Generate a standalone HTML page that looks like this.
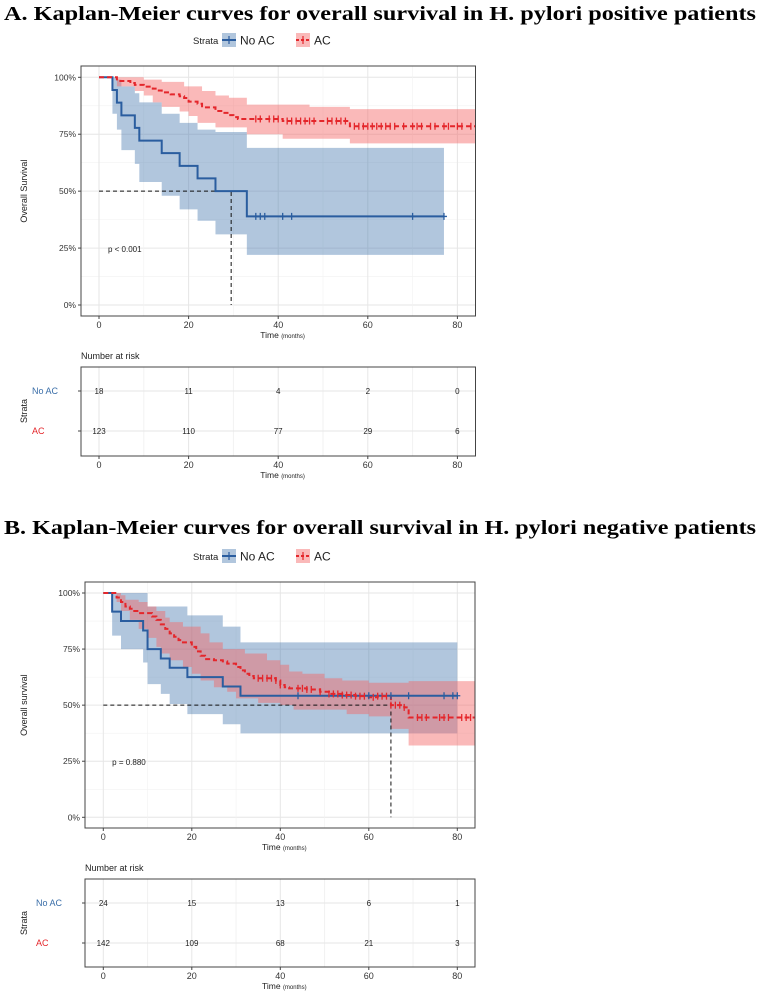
<!DOCTYPE html>
<html><head><meta charset="utf-8">
<style>
html,body{margin:0;padding:0;background:#fff;}
svg{display:block;}
text{font-family:"Liberation Sans",sans-serif;}
.title{font-family:"Liberation Serif",serif;font-weight:bold;font-size:20.5px;fill:#000;}
</style></head>
<body>
<svg id="svg" width="759" height="992" viewBox="0 0 759 992" xmlns="http://www.w3.org/2000/svg">
<text class="title" x="4" y="20" textLength="752" lengthAdjust="spacingAndGlyphs">A.  Kaplan-Meier curves for overall survival in H. pylori positive patients</text>
<text class="title" x="4" y="534" textLength="752" lengthAdjust="spacingAndGlyphs">B.  Kaplan-Meier curves for overall survival in H. pylori negative patients</text>
</svg>
<script>
// ---- Panel A data ----
const aNoTimes = [0,3,4,5,8,9,14,18,22,26,33,77];
const aNoSurv  = [100,94.4,88.9,83.3,77.8,72.2,66.7,61.1,55.6,50,38.9,38.9];
const aNoUpTimes = [0,4,5,8,9,14,18,22,26,33,77];
const aNoUp    = [100,99,96,93,89,84,80,77,76,69,69];
const aNoLoTimes = [0,3,4,5,8,9,14,18,22,26,33,77];
const aNoLo    = [100,84,77,68,62,54,48,42,37,31,22,22];
const aNoCens  = [35,36,37,41,43,70,77];
const aAcTimes = [0,4,7,8,10,12,13,14,16,18,19,20,22,23,26,28,29,30,31,41,56,84];
const aAcSurv  = [100,98.4,97.5,96.7,95.9,95,94.2,93.4,92.5,91.7,90.9,89.3,88.4,86.8,85.2,84.4,83.4,82.5,81.7,80.8,78.5,78.5];
const aAcUpTimes = [0,10,14,19,23,26,29,33,47,56,84];
const aAcUp    = [100,99,98,96,94,92,91,88,87,86,86];
const aAcLoTimes = [0,4,8,10,12,14,18,20,22,26,33,41,56,84];
const aAcLo    = [100,96,94,92,89,87,85,83,80,78,75,73,71,71];
const aAcCens  = [35,36,38,39,40,42,43,44,45,46,47,48,51,52,53,54,55,57,58,59,60,61,62,63,64,65,66,68,70,71,72,74,75,77,78,80,81,83];
const aMedian = 29.5;
const aRiskTicks = [0,20,40,60,80];
const aRiskNo = [18,11,4,2,0];
const aRiskAc = [123,110,77,29,6];
// ---- Panel B data ----
const bNoTimes = [0,2,4,9,10,13,15,19,27,31,80];
const bNoSurv  = [100,91.7,87.5,83.3,75,70.8,66.7,62.5,58.3,54.2,54.2];
const bNoUpTimes = [0,10,19,27,31,80];
const bNoUp    = [100,94,90,85,78,78];
const bNoLoTimes = [0,2,4,9,10,13,15,19,27,31,80];
const bNoLo    = [100,81,75,69,59.4,55,50.5,46,41.5,37.4,37.4];
const bNoCens  = [44,60,65,69,77,79,80];
const bAcTimes = [0,3,4,5,6,7,8,10,11,12,13,14,15,16,17,18,20,21,22,23,25,27,28,30,31,32,33,34,39,40,41,42,46,49,51,54,57,60,62,65,68,69,84];
const bAcSurv  = [100,98,96,94,93,92,91,91,89.5,88,86,84,82,80.5,79,78,76,74,72,70.5,70,69.5,68.5,67,65.5,64,63,62,61,59,58,57.5,57,56,55,54.5,54,53.5,54,50,49,44.5,44.5];
const bAcUpTimes = [0,4,5,8,10,12,14,15,18,22,24,27,32,37,40,42,45,50,54,60,69,84];
const bAcUp    = [100,99,97,96,94,92,89,87,85,82,78,75,73,70,68,65,64,62,61,60,60.7,60.7];
const bAcLoTimes = [0,3,4,6,8,10,12,13,15,18,20,22,25,28,30,35,40,43,55,60,65,69,84];
const bAcLo    = [100,96,92,88,84,80,76,73,70,67,64,61,58,56,53,51,50,48,46,45,39.4,32,32];
const bAcCens  = [35,36,37,38,39,40,44,45,46,47,49,51,52,53,54,55,56,57,58,59,61,62,63,64,65,66,67,68,71,72,73,76,77,78,81,82,83];
const bMedian = 65;
const bRiskTicks = [0,20,40,60,80];
const bRiskNo = [24,15,13,6,1];
const bRiskAc = [142,109,68,21,3];

const svg = document.getElementById('svg');
const NS = 'http://www.w3.org/2000/svg';
function mk(tag, attrs, parent){
  const e = document.createElementNS(NS, tag);
  for (const k in attrs) e.setAttribute(k, attrs[k]);
  (parent||svg).appendChild(e);
  return e;
}
function txt(s, attrs, parent){ const e = mk('text', attrs, parent); e.textContent = s; return e; }

function stepPath(ts, vs, X, Y){
  let d = 'M'+X(ts[0])+','+Y(vs[0]);
  for (let i=1;i<ts.length;i++){ d += ' H'+X(ts[i])+' V'+Y(vs[i]); }
  return d;
}
function bandPath(ut, uv, lt, lv, X, Y){
  let d = 'M'+X(ut[0])+','+Y(uv[0]);
  for (let i=1;i<ut.length;i++){ d += ' H'+X(ut[i])+' V'+Y(uv[i]); }
  d += ' L'+X(lt[lt.length-1])+','+Y(lv[lv.length-1]);
  for (let i=lt.length-1;i>0;i--){ d += ' V'+Y(lv[i-1])+' H'+X(lt[i-1]); }
  return d+' Z';
}
function survAt(ts, vs, t){ let v=vs[0]; for(let i=0;i<ts.length;i++){ if(ts[i]<=t) v=vs[i]; } return v; }

const BLUE='#2a5d9f', RED='#e4262b', BLUEF='rgba(70,120,175,0.42)', REDF='rgba(245,100,100,0.45)';

function panel(cfg){
  const {box, x0, k, y100, y0, oy} = cfg;
  const X = t => x0 + t*k;
  const Y = v => y0 + (y100-y0)*v/100;
  const g = mk('g', {});
  
  
  // legend
  const lg = mk('g', {}, g);
  
  
  txt('Strata', {x:193, y:cfg.ly+4, 'font-size':9.5, fill:'#222'}, lg);
  mk('rect', {x:222, y:cfg.ly-7, width:14, height:14, fill:BLUEF}, lg);
  mk('line', {x1:222, y1:cfg.ly, x2:236, y2:cfg.ly, stroke:BLUE, 'stroke-width':2}, lg);
  mk('line', {x1:229, y1:cfg.ly-4, x2:229, y2:cfg.ly+4, stroke:BLUE, 'stroke-width':1.2}, lg);
  txt('No AC', {x:240, y:cfg.ly+4.5, 'font-size':12, fill:'#222'}, lg);
  mk('rect', {x:296, y:cfg.ly-7, width:14, height:14, fill:REDF}, lg);
  mk('line', {x1:296, y1:cfg.ly, x2:310, y2:cfg.ly, stroke:RED, 'stroke-width':2, 'stroke-dasharray':'3,2'}, lg);
  mk('line', {x1:303, y1:cfg.ly-4, x2:303, y2:cfg.ly+4, stroke:RED, 'stroke-width':1.2}, lg);
  txt('AC', {x:314, y:cfg.ly+4.5, 'font-size':12, fill:'#222'}, lg);
  // grid
  for (let v=0; v<=100; v+=12.5){
    mk('line', {x1:box[0], x2:box[2], y1:Y(v), y2:Y(v), stroke: v%25===0?'#e6e6e6':'#f2f2f2', 'stroke-width':v%25===0?1:0.6}, g);
  }
  for (let t=0; t<=80; t+=10){
    mk('line', {y1:box[1], y2:box[3], x1:X(t), x2:X(t), stroke: t%20===0?'#e6e6e6':'#f2f2f2', 'stroke-width':t%20===0?1:0.6}, g);
  }
  // bands
  const nb = mk('path', {d:bandPath(cfg.noUpT,cfg.noUp,cfg.noLoT,cfg.noLo,X,Y), fill:BLUEF}, g);
  
  
  const ab = mk('path', {d:bandPath(cfg.acUpT,cfg.acUp,cfg.acLoT,cfg.acLo,X,Y), fill:REDF}, g);
  
  
  // median lines
  mk('path', {d:'M'+X(0)+','+Y(50)+' H'+X(cfg.median)+' V'+Y(0), fill:'none', stroke:'#111', 'stroke-width':1, 'stroke-dasharray':'4,3'}, g);
  // curves
  const nl = mk('path', {d:stepPath(cfg.noT,cfg.noS,X,Y), fill:'none', stroke:BLUE, 'stroke-width':2}, g);
  
  
  const al = mk('path', {d:stepPath(cfg.acT,cfg.acS,X,Y), fill:'none', stroke:RED, 'stroke-width':2, 'stroke-dasharray':'5,3'}, g);
  
  
  cfg.noC.forEach(t=>{ const y=Y(survAt(cfg.noT,cfg.noS,t)); mk('path',{d:'M'+(X(t)-3)+','+y+'h6M'+X(t)+','+(y-3.5)+'v7',stroke:BLUE,'stroke-width':1.3},g); });
  cfg.acC.forEach(t=>{ const y=Y(survAt(cfg.acT,cfg.acS,t)); mk('path',{d:'M'+X(t)+','+(y-3.5)+'v7',stroke:RED,'stroke-width':1.3},g); });
  // box
  mk('rect', {x:box[0], y:box[1], width:box[2]-box[0], height:box[3]-box[1], fill:'none', stroke:'#444', 'stroke-width':1}, g);
  // y axis
  [0,25,50,75,100].forEach(v=>{
    mk('line',{x1:box[0]-3,x2:box[0],y1:Y(v),y2:Y(v),stroke:'#444'},g);
    txt(v+'%',{x:box[0]-5,y:Y(v)+3,'font-size':8.5,fill:'#333','text-anchor':'end'},g);
  });
  txt(cfg.ytitle,{transform:'translate(27,'+((y0+y100)/2)+') rotate(-90)','font-size':9,fill:'#222','text-anchor':'middle'},g);
  [0,20,40,60,80].forEach(t=>{
    mk('line',{x1:X(t),x2:X(t),y1:box[3],y2:box[3]+3,stroke:'#444'},g);
    txt(String(t),{x:X(t),y:box[3]+12,'font-size':9,fill:'#333','text-anchor':'middle'},g);
  });
  const tl = txt('Time ',{x:(box[0]+box[2])/2-18,y:box[3]+22,'font-size':8.5,fill:'#222'},g);
  const ts = mk('tspan',{'font-size':6},tl); ts.textContent='(months)';
  txt(cfg.ptext,{x:X(cfg.px),y:Y(25)+4,'font-size':8,fill:'#222'},g);

  // risk table
  const rb = cfg.rbox;
  const rg = mk('g', {});
  
  
  txt('Number at risk',{x:rb[0],y:rb[1]-8,'font-size':9,fill:'#222'},rg);
  for (let t=0;t<=80;t+=10) mk('line',{x1:X(t),x2:X(t),y1:rb[1],y2:rb[3],stroke:t%20===0?'#e6e6e6':'#f2f2f2'},rg);
  [cfg.r1,cfg.r2].forEach(y=>mk('line',{x1:rb[0],x2:rb[2],y1:y,y2:y,stroke:'#e6e6e6'},rg));
  mk('rect',{x:rb[0],y:rb[1],width:rb[2]-rb[0],height:rb[3]-rb[1],fill:'none',stroke:'#444'},rg);
  cfg.rTicks.forEach((t,i)=>{
    txt(String(cfg.rNo[i]),{x:X(t),y:cfg.r1+3,'font-size':8,fill:'#222','text-anchor':'middle'},rg);
    txt(String(cfg.rAc[i]),{x:X(t),y:cfg.r2+3,'font-size':8,fill:'#222','text-anchor':'middle'},rg);
    mk('line',{x1:X(t),x2:X(t),y1:rb[3],y2:rb[3]+3,stroke:'#444'},rg);
    txt(String(t),{x:X(t),y:rb[3]+12,'font-size':9,fill:'#333','text-anchor':'middle'},rg);
  });
  [cfg.r1,cfg.r2].forEach(y=>mk('line',{x1:rb[0]-3,x2:rb[0],y1:y,y2:y,stroke:'#444'},rg));
  txt('No AC',{x:rb[0]-49,y:cfg.r1+3,'font-size':9,fill:'#3a6ea8'},rg);
  txt('AC',{x:rb[0]-49,y:cfg.r2+3,'font-size':9,fill:'#e4262b'},rg);
  txt('Strata',{transform:'translate(27,'+((cfg.r1+cfg.r2)/2)+') rotate(-90)','font-size':9,fill:'#222','text-anchor':'middle'},rg);
  const tl2 = txt('Time ',{x:(rb[0]+rb[2])/2-18,y:rb[3]+22,'font-size':8.5,fill:'#222'},rg);
  const ts2 = mk('tspan',{'font-size':6},tl2); ts2.textContent='(months)';
}

panel({id:'panel-a', box:[81,66,475.5,316], x0:99, k:4.48, y100:77.3, y0:305, ly:40,
  noT:aNoTimes, noS:aNoSurv, noUpT:aNoUpTimes, noUp:aNoUp, noLoT:aNoLoTimes, noLo:aNoLo, noC:aNoCens,
  acT:aAcTimes, acS:aAcSurv, acUpT:aAcUpTimes, acUp:aAcUp, acLoT:aAcLoTimes, acLo:aAcLo, acC:aAcCens,
  median:aMedian, ytitle:'Overall Survival', ptext:'p < 0.001', px:2,
  rbox:[81,367,475.5,456], r1:391, r2:431, rTicks:aRiskTicks, rNo:aRiskNo, rAc:aRiskAc});
panel({id:'panel-b', box:[85,582,475,828], x0:103.3, k:4.425, y100:593, y0:817.3, ly:556,
  noT:bNoTimes, noS:bNoSurv, noUpT:bNoUpTimes, noUp:bNoUp, noLoT:bNoLoTimes, noLo:bNoLo, noC:bNoCens,
  acT:bAcTimes, acS:bAcSurv, acUpT:bAcUpTimes, acUp:bAcUp, acLoT:bAcLoTimes, acLo:bAcLo, acC:bAcCens,
  median:bMedian, ytitle:'Overall survival', ptext:'p = 0.880', px:2,
  rbox:[85,879,475,967], r1:903, r2:943, rTicks:bRiskTicks, rNo:bRiskNo, rAc:bRiskAc});
</script>
</body></html>
